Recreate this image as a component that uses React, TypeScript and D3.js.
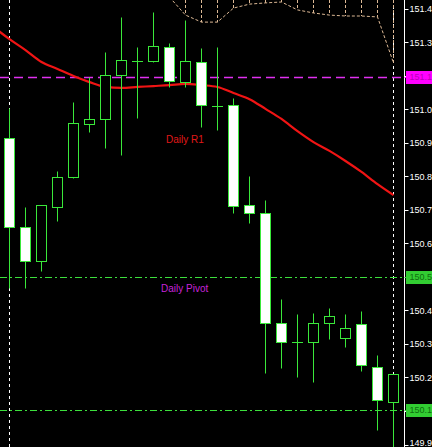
import React from "react";
import * as d3 from "d3";

const W = 432;
const H = 447;
const AXIS_X = 404.5;

// USDJPY bars, oldest to newest
const opens = [150.996, 150.704, 150.592, 150.77, 150.868, 151.042, 151.059, 151.203, 151.249, 151.249, 151.295, 151.18, 151.246, 151.101, 151.105, 150.776, 150.75, 150.389, 150.326, 150.326, 150.389, 150.34, 150.386, 150.244, 150.129];
const highs = [151.095, 150.77, 150.776, 150.888, 151.115, 151.197, 151.279, 151.394, 151.295, 151.41, 151.308, 151.384, 151.292, 151.295, 151.128, 150.872, 150.793, 150.468, 150.418, 150.422, 150.438, 150.418, 150.428, 150.284, 150.221];
const lows = [150.504, 150.504, 150.56, 150.724, 150.865, 151.016, 150.964, 150.941, 151.062, 151.246, 151.164, 151.164, 151.032, 151.023, 150.75, 150.717, 150.225, 150.241, 150.211, 150.195, 150.336, 150.31, 150.231, 150.037, 149.965];
const closes = [150.704, 150.592, 150.776, 150.868, 151.046, 151.059, 151.203, 151.253, 151.249, 151.298, 151.184, 151.249, 151.105, 151.101, 150.773, 150.75, 150.389, 150.326, 150.326, 150.389, 150.412, 150.372, 150.251, 150.136, 150.221];

// moving average, starting one bar before the first visible bar
const maStart = -1;
const maValues = [151.361, 151.321, 151.285, 151.246, 151.223, 151.2, 151.18, 151.164, 151.161, 151.164, 151.167, 151.17, 151.174, 151.17, 151.164, 151.144, 151.124, 151.092, 151.059, 151.019, 150.983, 150.954, 150.921, 150.885, 150.845, 150.809];

// lower edge of the cloud band, from bar 10 onwards
const cloudStart = 10;
const cloudEdge = [151.459, 151.4, 151.377, 151.377, 151.423, 151.436, 151.44, 151.443, 151.417, 151.407, 151.4, 151.397, 151.397, 151.394, 151.243];

// bars that open a new day
const separators = [0, 24];

const priceTicks = [151.42, 151.31, 151.2, 151.09, 150.98, 150.87, 150.76, 150.65, 150.54, 150.43, 150.32, 150.21, 150.1, 149.99];

const r1Level = 151.197;
const pivotLevel = 150.54;
const s1Level = 150.103;

const GREEN = "#3ae83a";
const FONT = "'Liberation Sans', Arial, sans-serif";

// the axis is narrow: show the price cut to one decimal, as the terminal does
const axisText = (v: number) => v.toFixed(3).slice(0, 5);

export default function App() {
  const x = d3.scaleLinear().domain([0, 24]).range([9.5, 393.5]);
  const y = d3.scaleLinear().domain([149.99, 151.42]).range([444.5, 9]);
  const py = (v: number) => Math.round(y(v)) + 0.5;
  // keep axis captions inside the canvas
  const labelY = (v: number) => Math.min(y(v), H - 4.5);

  const maLine = d3
    .line<number>()
    .x((_, i) => x(i + maStart))
    .y((d) => y(d))
    .curve(d3.curveMonotoneX)(maValues);

  const cloudLine = d3
    .line<number>()
    .x((_, i) => x(i + cloudStart))
    .y((d) => y(d))(cloudEdge);

  const bodyHalf = 5;

  return (
    <svg
      width={W}
      height={H}
      style={{ position: "fixed", left: 0, top: 0, display: "block", background: "#000" }}
    >
      <defs>
        <clipPath id="plot">
          <rect x={0} y={0} width={AXIS_X} height={H} />
        </clipPath>
      </defs>
      <rect x={0} y={0} width={W} height={H} fill="#000" />

      <g clipPath="url(#plot)">
        {/* day separators */}
        {separators.map((i) => (
          <line key={"sep" + i} x1={x(i)} x2={x(i)} y1={0} y2={H} stroke="#fff" strokeWidth={1} strokeDasharray="3,3" />
        ))}

        {/* cloud hatching and edge */}
        {cloudEdge.map((v, i) =>
          y(v) > 1 ? (
            <line key={"ch" + i} x1={x(i + cloudStart)} x2={x(i + cloudStart)} y1={0} y2={y(v)} stroke="#dcb894" strokeWidth={1} strokeDasharray="3,2" />
          ) : null
        )}
        <path d={cloudLine || ""} fill="none" stroke="#dcb894" strokeWidth={1} strokeDasharray="3,2" />

        {/* daily levels */}
        <line x1={0} x2={AXIS_X} y1={py(r1Level)} y2={py(r1Level)} stroke="#e030f0" strokeWidth={1.3} strokeDasharray="9,5" />
        <line x1={0} x2={AXIS_X} y1={py(pivotLevel)} y2={py(pivotLevel)} stroke="#3ce03c" strokeWidth={1.2} strokeDasharray="7,3,2,3" />
        <line x1={0} x2={AXIS_X} y1={py(s1Level)} y2={py(s1Level)} stroke="#3ce03c" strokeWidth={1.2} strokeDasharray="7,3,2,3" />

        {/* moving average */}
        <path d={maLine || ""} fill="none" stroke="#f01414" strokeWidth={2.2} />

        {/* candles */}
        {opens.map((o, i) => {
          const c = closes[i];
          const cx = x(i);
          const top = py(Math.max(o, c));
          const bot = py(Math.min(o, c));
          const bear = c < o;
          return (
            <g key={"c" + i}>
              <line x1={cx} x2={cx} y1={py(highs[i])} y2={py(lows[i])} stroke={GREEN} strokeWidth={1} />
              {o === c ? (
                <line x1={cx - bodyHalf - 0.5} x2={cx + bodyHalf + 0.5} y1={top} y2={top} stroke={GREEN} strokeWidth={1} />
              ) : (
                <rect x={cx - bodyHalf} y={top} width={bodyHalf * 2} height={bot - top} fill={bear ? "#fff" : "#000"} stroke={GREEN} strokeWidth={1} />
              )}
            </g>
          );
        })}

        {/* level captions */}
        <text x={166} y={143} fill="#e01818" fontFamily={FONT} fontSize={10}>Daily R1</text>
        <text x={161} y={y(pivotLevel) + 15} fill="#c824d8" fontFamily={FONT} fontSize={10}>Daily Pivot</text>
      </g>

      {/* price axis */}
      <line x1={AXIS_X} x2={AXIS_X} y1={0} y2={H} stroke="#fff" strokeWidth={1} />
      {priceTicks.map((t) => (
        <g key={"t" + t}>
          <line x1={AXIS_X} x2={AXIS_X + 4} y1={py(t)} y2={py(t)} stroke="#fff" strokeWidth={1} />
          <text x={409.5} y={labelY(t)} dy="0.35em" fill="#fff" fontFamily={FONT} fontSize={9}>
            {axisText(t)}
          </text>
        </g>
      ))}

      {/* current level tags on the axis */}
      {[
        { v: r1Level, bg: "#ff00ff", fg: "#b800b8" },
        { v: pivotLevel, bg: "#32cd32", fg: "#0e6e0e" },
        { v: s1Level, bg: "#32cd32", fg: "#0e6e0e" },
      ].map((l) => (
        <g key={"tag" + l.v}>
          <line x1={AXIS_X} x2={AXIS_X + 2} y1={py(l.v)} y2={py(l.v)} stroke={l.bg} />
          <rect x={406} y={Math.round(y(l.v)) - 6} width={W - 406} height={13} fill={l.bg} />
          <text x={409.5} y={y(l.v)} dy="0.35em" fill={l.fg} fontFamily={FONT} fontSize={9}>
            {axisText(l.v)}
          </text>
        </g>
      ))}
    </svg>
  );
}
